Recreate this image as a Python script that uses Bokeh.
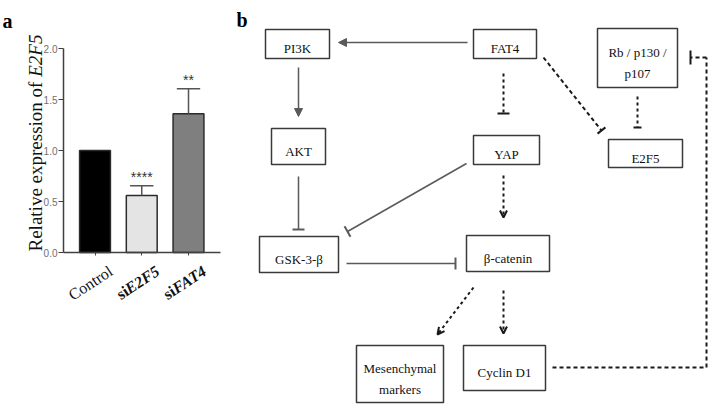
import math
from bokeh.plotting import figure
from bokeh.models import (Range1d, FixedTicker, Label, Arrow, NormalHead, OpenHead, TeeHead,
                          LinearAxis)
from bokeh.layouts import row
from bokeh.embed import file_html
from bokeh.resources import INLINE
from bokeh.core.properties import value

# ---------------- Panel a data ----------------
groups = ["Control", "siE2F5", "siFAT4"]
label_prefix = ["", "si", "si"]
label_main = ["Control", "E2F5", "FAT4"]
label_main_style = ["normal", "bold italic", "bold italic"]
means = [1.0, 0.56, 1.36]
errors = [0.0, 0.095, 0.245]
stars = ["", "****", "**"]
bar_colors = ["#000000", "#e4e4e4", "#7f7f7f"]
y_ticks = [0.0, 0.5, 1.0, 1.5, 2.0]
y_label_main = "Relative expression of "
y_label_gene = "E2F5"

# ---------------- Panel b data ----------------
node_lines = [["PI3K"], ["AKT"], ["FAT4"], ["YAP"], ["Rb / p130 /", "p107"], ["E2F5"],
              ["GSK-3-\u03b2"], ["\u03b2-catenin"], ["Mesenchymal", "markers"], ["Cyclin D1"]]
node_left = [265, 271, 473, 473, 597, 608, 259, 466, 356, 463]
node_top = [29, 128, 29, 135, 28, 139, 236, 235, 345, 345]
node_right = [329, 325, 536, 539, 677, 682, 338, 549, 443, 545]
node_bottom = [58, 164, 58, 164, 87, 167, 272, 271, 402, 390]

# edges: x0, y0, x1, y1, kind, head, head size
edges = [
    (467, 42, 338, 42, "solid", "arrow", 8),
    (298, 67, 298, 116, "solid", "arrow", 8),
    (298, 176, 298, 229, "solid", "tee", 12),
    (466, 163, 347, 231, "solid", "tee", 12),
    (346, 263, 455, 263, "solid", "tee", 12),
    (503, 73, 503, 113, "dotted", "tee", 12),
    (543, 57, 601, 130, "dashed", "tee", 10),
    (637, 96, 637, 127, "dotted", "tee", 8),
    (503, 175, 503, 217, "dotted", "open", 7),
    (503, 290, 503, 333, "dotted", "open", 7),
    (473, 287, 437, 334, "dotted", "open", 7),
    (706, 57, 690, 57, "dashed", "tee", 14),
]
feedback_x = [552, 706, 706]
feedback_y = [367, 367, 57]

SERIF = "Liberation Serif"
SANS = "Liberation Sans"

# ---------------- Panel a ----------------
W_A, H = 236, 404
AX_PX = 63        # pixel column of the y axis
Y0_PX = 252       # pixel row of y = 0
X_AXIS_END_PX = 220
Y_TOP_PX = 48     # pixel row of y = 2.0
ppy = (Y0_PX - Y_TOP_PX) / 2.0
ppx = 46.75
x_origin_px = 94.5 - ppx      # pixel column of x = 0


def ax(px):
    return (px - x_origin_px) / ppx


def ay(py):
    return (Y0_PX - py) / ppy


pa = figure(width=W_A, height=H, x_range=Range1d(ax(0), ax(W_A)), y_range=Range1d(ay(H), ay(0)),
            output_backend="svg", toolbar_location=None, x_axis_location=None,
            y_axis_location=None, min_border=0)
pa.outline_line_color = None
pa.grid.visible = False
pa.background_fill_color = "white"
pa.border_fill_color = "white"

xs = [i + 1 for i in range(len(groups))]
pa.vbar(x=xs, top=means, width=0.66, fill_color=bar_colors, line_color="#2b2b2b", line_width=1.5)

ex = [xs[i] for i in range(len(xs)) if errors[i] > 0]
eb = [means[i] for i in range(len(xs)) if errors[i] > 0]
et = [means[i] + errors[i] for i in range(len(xs)) if errors[i] > 0]
pa.segment(x0=ex, y0=eb, x1=ex, y1=et, line_color="#555555", line_width=1.5)
pa.segment(x0=[x - 0.25 for x in ex], y0=et, x1=[x + 0.25 for x in ex], y1=et,
           line_color="#555555", line_width=1.5)
pa.text(x=xs, y=[means[i] + errors[i] + 0.09 for i in range(len(xs))], text=stars,
        text_align="center", text_baseline="alphabetic", text_font=value(SANS),
        text_font_size="14px", text_color="#333333")

yax = LinearAxis(fixed_location=ax(AX_PX), bounds=(y_ticks[0], y_ticks[-1]))
yax.ticker = FixedTicker(ticks=y_ticks)
yax.major_label_overrides = {t: f"{t:.1f}" for t in y_ticks}
yax.major_label_text_font = SANS
yax.major_label_text_font_size = "10px"
yax.major_label_text_color = "#707070"
yax.major_label_standoff = 1
yax.axis_line_color = "#404040"
yax.axis_line_width = 1.5
yax.major_tick_line_color = "#404040"
yax.major_tick_in = 0
yax.major_tick_out = 5
yax.minor_tick_line_color = None
pa.add_layout(yax, "left")

xax = LinearAxis(fixed_location=0, bounds=(ax(AX_PX), ax(X_AXIS_END_PX)))
xax.ticker = FixedTicker(ticks=xs)
xax.major_label_overrides = {x: "" for x in xs}
xax.axis_line_color = "#404040"
xax.axis_line_width = 1.5
xax.major_tick_line_color = "#404040"
xax.major_tick_in = 0
xax.major_tick_out = 3
xax.minor_tick_line_color = None
pa.add_layout(xax, "below")

# rotated tick labels with mixed styles
theta = 0.58
xfs = 16
bi_w = {"E": 0.667, "F": 0.64, "A": 0.6, "T": 0.57, "2": 0.5, "4": 0.5, "5": 0.5}
for i, x in enumerate(xs):
    xe = x + 16 / ppx
    ye = ay(269)
    pa.add_layout(Label(x=xe, y=ye, text=label_main[i], angle=theta, text_align="right",
                        text_baseline="alphabetic", text_font=SERIF, text_font_size=f"{xfs}px",
                        text_font_style=label_main_style[i], text_color="#111111"))
    if label_prefix[i]:
        w = sum(bi_w.get(c, 0.6) for c in label_main[i]) * xfs
        pa.add_layout(Label(x=xe - w * math.cos(theta) / ppx, y=ye - w * math.sin(theta) / ppy,
                            text=label_prefix[i], angle=theta, text_align="right",
                            text_baseline="alphabetic", text_font=SERIF,
                            text_font_size=f"{xfs}px", text_font_style="bold",
                            text_color="#111111"))

# y axis label (normal + italic)
yfs = 19
w1 = 9.193 * yfs
YL_PX = 35
pa.add_layout(Label(x=ax(YL_PX), y=ay(251), text=y_label_main, angle=math.pi / 2,
                    text_align="left", text_baseline="alphabetic", text_font=SERIF,
                    text_font_size=f"{yfs}px", text_color="#111111"))
pa.add_layout(Label(x=ax(YL_PX), y=ay(251 - w1), text=y_label_gene, angle=math.pi / 2,
                    text_align="left", text_baseline="alphabetic", text_font=SERIF,
                    text_font_size=f"{yfs}px", text_font_style="italic", text_color="#111111"))

pa.add_layout(Label(x=ax(2), y=ay(20), text="a", text_font=SERIF, text_font_size="20px",
                    text_font_style="bold", text_baseline="alphabetic", text_color="#000000"))

# ---------------- Panel b ----------------
W_B = 709 - W_A
pb = figure(width=W_B, height=H, x_range=Range1d(W_A, W_A + W_B), y_range=Range1d(H, 0),
            x_axis_location=None, y_axis_location=None, output_backend="svg",
            toolbar_location=None, min_border=0)
pb.outline_line_color = None
pb.grid.visible = False
pb.background_fill_color = "white"
pb.border_fill_color = "white"

pb.quad(left=node_left, right=node_right, top=node_top, bottom=node_bottom,
        fill_color="white", line_color="#3a3a3a", line_width=1.5)
line_gap = 21
for lines, l, r, t, b in zip(node_lines, node_left, node_right, node_top, node_bottom):
    cxn = (l + r) / 2
    cyn = (t + b) / 2
    n = len(lines)
    for k, s in enumerate(lines):
        pb.add_layout(Label(x=cxn, y=cyn + (k - (n - 1) / 2) * line_gap + 4.5, text=s,
                            text_align="center", text_baseline="alphabetic", text_font=SERIF,
                            text_font_size="13px", text_color="#111111"))

styles = {
    "solid": dict(line_color="#5a5a5a", line_width=1.5, line_dash="solid"),
    "dotted": dict(line_color="#1a1a1a", line_width=2, line_dash="3 3"),
    "dashed": dict(line_color="#1a1a1a", line_width=2, line_dash="4 3"),
}
pb.line(x=feedback_x, y=feedback_y, **styles["dashed"])
for (x0, y0, x1, y1, kind, head, hs) in edges:
    st = styles[kind]
    if head == "arrow":
        h = NormalHead(size=hs, fill_color=st["line_color"], line_color=st["line_color"], line_width=1)
    elif head == "open":
        h = OpenHead(size=hs, line_color=st["line_color"], line_width=2)
    else:
        h = TeeHead(size=hs, line_color=st["line_color"], line_width=2)
    pb.add_layout(Arrow(end=h, x_start=x0, y_start=y0, x_end=x1, y_end=y1, **st))

pb.add_layout(Label(x=236, y=19, text="b", text_font=SERIF, text_font_size="20px",
                    text_font_style="bold", text_baseline="alphabetic", text_color="#000000"))

layout = row(pa, pb)
open("out.html", "w").write(file_html(layout, INLINE))
